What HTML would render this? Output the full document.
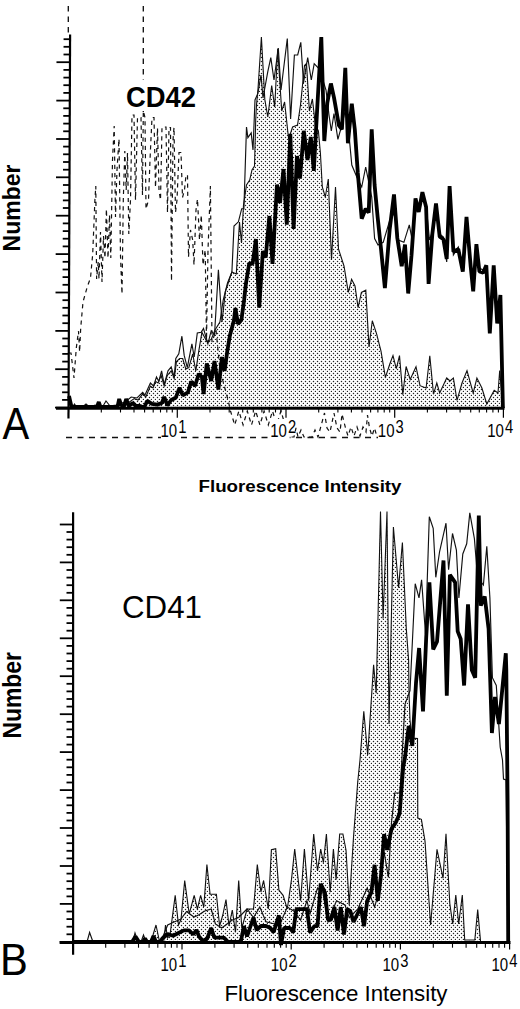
<!DOCTYPE html>
<html><head><meta charset="utf-8"><style>
html,body{margin:0;padding:0;background:#fff;}
svg{display:block;}
</style></head><body>
<svg width="520" height="1009" viewBox="0 0 520 1009">
<defs>
<pattern id="dots" width="4" height="4" patternUnits="userSpaceOnUse">
<rect width="4" height="4" fill="#fff"/>
<circle cx="1.5" cy="1.5" r="0.72" fill="#222"/>
<circle cx="3.5" cy="3.5" r="0.72" fill="#222"/>
</pattern>
</defs>
<rect width="520" height="1009" fill="#fff"/>
<polygon points="128.0,408.0 128.0,407.0 128.0,403.0 134.2,398.5 138.0,400.0 142.7,393.8 145.8,397.0 150.4,386.0 153.0,388.0 155.8,381.5 158.0,383.0 161.2,375.4 164.2,386.0 167.3,375.4 171.2,370.8 174.2,378.5 176.5,361.5 179.6,358.5 182.7,358.5 185.8,369.0 188.8,367.7 192.7,353.8 195.8,370.8 198.8,350.8 201.9,332.3 206.8,341.6 211.2,339.4 215.0,330.0 219.9,322.0 223.2,300.0 227.5,282.8 231.9,272.0 236.3,274.0 239.5,222.0 241.5,243.0 243.5,205.0 246.5,185.0 249.7,180.0 252.0,170.0 254.5,166.0 255.7,120.0 256.5,105.0 258.0,89.0 261.4,37.0 264.8,99.4 267.8,117.0 271.7,85.5 274.7,107.0 277.7,48.8 281.7,111.0 284.6,102.0 288.6,139.0 292.6,127.0 297.5,125.0 300.5,105.0 304.5,65.6 306.5,63.6 309.4,111.0 312.4,99.0 315.4,125.0 318.4,131.0 320.4,153.0 322.3,187.0 325.3,197.0 328.3,179.0 331.5,260.0 335.5,187.0 338.5,249.0 344.0,266.0 348.3,292.4 351.6,279.3 355.0,286.0 358.1,307.6 361.4,292.4 365.8,290.2 369.0,346.9 372.3,320.7 376.6,333.8 381.0,351.2 385.4,377.4 389.7,364.3 393.0,355.6 396.3,368.6 399.5,355.6 402.8,394.8 406.1,366.5 410.2,379.4 416.0,366.7 420.0,385.7 426.1,388.0 429.8,355.7 433.5,394.1 436.8,383.0 439.7,393.0 446.7,378.0 450.0,381.0 453.4,378.0 457.0,400.3 462.0,383.0 467.0,370.6 473.2,393.0 476.9,378.0 481.9,388.0 486.8,404.0 494.2,390.4 498.0,393.0 499.7,370.6 503.0,408.0 503.0,408.0" fill="url(#dots)" stroke="#111" stroke-width="1.1"/>
<polyline points="68.8,353.0 71.0,353.0 74.0,378.0 76.3,348.0 78.5,331.0 79.6,352.0 80.7,328.0 83.0,302.0 87.2,287.0 90.5,278.0 92.7,254.0 94.9,200.0 95.8,186.0 96.6,279.0 98.2,262.0 99.0,279.0 100.5,232.0 102.0,282.0 103.5,236.0 105.0,258.0 106.4,209.0 108.0,258.0 109.5,215.0 110.8,258.0 112.5,160.0 114.2,126.0 115.5,217.0 117.0,170.0 119.0,139.0 120.5,256.0 122.0,294.0 123.3,200.0 124.8,151.0 126.2,190.0 127.5,153.0 128.8,234.0 130.5,200.0 132.0,115.0 134.0,115.0 135.5,200.0 137.5,117.5 141.0,117.5 142.5,195.0 143.3,111.0 145.0,117.5 146.0,209.0 148.5,200.0 150.0,160.0 152.0,117.5 154.0,117.5 155.5,187.5 157.5,128.0 159.0,190.0 160.5,200.0 162.0,127.0 166.0,127.0 167.5,212.5 169.0,127.5 170.5,127.5 171.5,281.0 173.0,140.0 174.0,127.5 175.5,212.5 177.0,200.0 179.0,152.5 181.0,152.5 182.5,197.5 184.5,190.0 186.0,175.0 187.5,175.0 188.5,257.0 190.5,230.0 192.7,240.0 194.0,265.0 196.0,210.0 197.5,199.0 199.5,240.0 201.3,215.0 203.0,265.0 205.2,250.0 206.5,340.0 208.0,250.0 210.4,186.0 212.0,342.0 216.0,330.0 220.0,370.0 224.0,385.0 228.0,400.0 230.5,411.0 234.7,425.0 238.9,411.0 243.1,425.0 247.3,411.0 251.5,425.0 255.7,411.0 259.9,425.0 264.1,411.0 268.3,425.0 272.5,411.0 276.7,425.0 280.9,411.0 285.1,425.0 287.0,432.0 290.0,437.0 294.0,437.0 296.0,428.0 298.0,437.0 301.0,430.0 304.0,437.0 312.0,437.0 315.0,430.0 318.0,437.0 321.0,426.0 324.5,413.0 327.0,428.0 330.0,432.0 334.0,413.0 337.0,428.0 340.0,432.0 342.0,414.0 345.5,428.0 348.0,436.0 351.0,427.0 354.0,436.0 357.0,427.0 360.0,436.0 363.0,427.0 366.0,432.0 367.5,415.0 369.5,428.0 372.0,436.0 374.5,428.0 377.0,437.0" fill="none" stroke="#111" stroke-width="1.2" stroke-dasharray="4.2 4"/>
<line x1="68.3" y1="6" x2="68.3" y2="36" stroke="#111" stroke-width="1.35" stroke-dasharray="5.5 5"/>
<line x1="143.3" y1="6" x2="143.3" y2="112" stroke="#111" stroke-width="1.35" stroke-dasharray="5.5 5"/>
<line x1="66" y1="437.5" x2="378" y2="437.5" stroke="#111" stroke-width="1.3" stroke-dasharray="6 5.5"/>
<polyline points="70.0,407.0 72.5,407.0 74.5,404.0 76.5,407.0 82.5,407.0 86.0,404.0 89.5,407.0 93.0,407.0 95.0,405.0 97.0,407.0 102.5,407.0 106.0,401.0 110.0,406.0 116.0,405.0 125.0,402.0 131.2,397.0 137.0,398.0 142.7,392.3 145.0,395.0 150.4,383.0 153.5,386.0 156.5,377.0 158.8,381.5 161.6,370.8 164.2,384.6 168.0,370.8 171.2,367.0 174.2,377.0 175.8,358.5 178.8,353.8 181.9,336.2 184.2,355.4 187.3,367.7 191.9,343.8 194.2,357.0 197.3,333.0 201.2,332.3 203.5,328.5 207.9,343.8 211.2,330.7 214.5,335.0 218.4,269.7 222.0,322.0 225.4,291.5 231.9,272.0 234.0,226.0 238.4,221.8 241.7,208.7 243.9,208.7 246.5,127.0 247.9,137.6 251.2,132.9 253.0,150.0 255.0,100.0 257.9,93.4 261.0,75.0 263.0,98.0 267.8,71.6 270.8,57.7 274.0,80.0 278.3,48.0 281.0,90.0 287.3,38.5 290.6,119.0 294.4,55.0 297.7,55.0 300.8,42.3 303.5,83.0 307.7,57.5 311.3,80.0 314.2,63.6 318.4,68.0 323.3,81.5 326.0,90.0 329.0,115.0 331.3,131.0 334.0,113.5 337.9,139.3 341.9,125.0 345.9,107.5 349.0,135.0 351.8,165.0 356.8,177.0 361.7,187.0 365.7,167.0 368.7,182.0 371.7,196.8 374.6,238.5 378.0,245.0 383.2,242.3 389.7,220.5 395.2,211.8 398.4,240.0 403.9,242.3 409.3,224.9 412.6,242.3 415.5,200.0 418.7,210.0 422.4,194.0 426.1,205.0 429.5,240.0 432.3,232.0 436.0,205.0 439.7,234.0 443.4,237.0 446.7,262.0 449.6,190.0 453.4,255.0 458.3,247.0 462.8,265.0 466.5,219.0 470.7,262.0 473.2,285.0 476.4,247.0 479.4,268.0 483.1,270.0 486.3,268.0 489.8,320.0 493.7,268.0 497.2,315.0 500.4,298.0 502.9,408.0" fill="none" stroke="#111" stroke-width="1.15" stroke-linejoin="miter"/>
<polyline points="69.0,396.0 71.5,407.0 97.0,407.0 98.8,402.0 100.5,407.0 117.5,407.0 119.2,399.0 121.2,405.0 123.8,407.0 126.2,399.0 128.8,406.0 132.7,403.0 136.0,406.0 140.0,406.0 144.2,407.5 147.3,400.8 151.9,403.8 157.3,404.6 161.9,403.0 164.2,397.0 167.3,405.4 171.2,400.0 175.8,397.7 179.6,387.7 182.7,395.4 188.0,392.3 191.2,381.5 195.0,386.0 198.8,373.8 201.9,377.0 203.6,394.0 206.8,363.4 211.2,381.0 214.5,361.0 218.4,389.5 222.0,357.0 224.6,371.0 227.3,351.0 230.0,335.0 234.0,320.0 235.4,308.0 238.0,324.0 241.4,320.0 244.1,300.0 246.0,283.0 249.3,263.0 252.6,264.0 255.9,239.0 259.2,307.7 262.9,251.0 265.7,257.5 269.4,216.0 272.5,264.0 277.0,184.6 280.0,203.0 283.5,169.0 286.8,224.6 290.3,133.8 293.6,229.0 297.0,156.0 300.0,178.5 303.8,130.8 307.5,160.0 310.8,137.0 313.8,170.8 317.4,105.0 321.3,37.0 324.3,141.0 327.3,103.0 330.9,83.5 334.0,97.6 338.9,125.4 341.9,129.4 345.3,67.9 347.9,143.3 351.8,103.6 354.8,129.4 357.8,173.0 361.7,218.7 365.7,208.7 368.7,212.7 371.7,129.4 374.6,185.0 377.6,216.7 381.0,248.8 384.9,288.0 389.7,229.2 394.0,194.4 397.3,238.0 401.7,266.3 405.0,244.5 408.2,293.5 411.5,255.4 415.5,198.5 418.7,212.0 422.4,192.2 426.1,207.0 428.6,283.9 432.3,234.3 436.0,203.4 439.7,236.8 443.4,239.3 446.7,259.0 449.6,186.0 453.4,251.7 458.3,249.2 462.8,271.5 466.5,217.0 470.7,266.5 473.2,291.3 476.4,244.2 479.4,271.5 483.1,272.7 486.3,265.3 489.8,333.4 493.7,265.3 497.2,323.5 500.4,295.0 502.9,408.0" fill="none" stroke="#000" stroke-width="3.8" stroke-linejoin="bevel"/>
<line x1="70.09" y1="34.5" x2="68.48" y2="418.5" stroke="#000" stroke-width="2.2"/>
<line x1="56" y1="408.3" x2="504.5" y2="408.3" stroke="#000" stroke-width="3"/>
<line x1="63.57" y1="39.2" x2="70.07" y2="39.2" stroke="#000" stroke-width="1.8"/>
<line x1="63.54" y1="46.8" x2="70.04" y2="46.8" stroke="#000" stroke-width="1.8"/>
<line x1="63.51" y1="54.5" x2="70.01" y2="54.5" stroke="#000" stroke-width="1.8"/>
<line x1="56.47" y1="62.2" x2="69.97" y2="62.2" stroke="#000" stroke-width="1.8"/>
<line x1="63.44" y1="69.9" x2="69.94" y2="69.9" stroke="#000" stroke-width="1.8"/>
<line x1="63.41" y1="77.6" x2="69.91" y2="77.6" stroke="#000" stroke-width="1.8"/>
<line x1="63.38" y1="85.2" x2="69.88" y2="85.2" stroke="#000" stroke-width="1.8"/>
<line x1="63.35" y1="92.9" x2="69.85" y2="92.9" stroke="#000" stroke-width="1.8"/>
<line x1="56.31" y1="100.6" x2="69.81" y2="100.6" stroke="#000" stroke-width="1.8"/>
<line x1="63.28" y1="108.3" x2="69.78" y2="108.3" stroke="#000" stroke-width="1.8"/>
<line x1="63.25" y1="115.9" x2="69.75" y2="115.9" stroke="#000" stroke-width="1.8"/>
<line x1="63.22" y1="123.6" x2="69.72" y2="123.6" stroke="#000" stroke-width="1.8"/>
<line x1="63.18" y1="131.3" x2="69.68" y2="131.3" stroke="#000" stroke-width="1.8"/>
<line x1="56.15" y1="139.0" x2="69.65" y2="139.0" stroke="#000" stroke-width="1.8"/>
<line x1="63.12" y1="146.6" x2="69.62" y2="146.6" stroke="#000" stroke-width="1.8"/>
<line x1="63.09" y1="154.3" x2="69.59" y2="154.3" stroke="#000" stroke-width="1.8"/>
<line x1="63.06" y1="162.0" x2="69.56" y2="162.0" stroke="#000" stroke-width="1.8"/>
<line x1="63.02" y1="169.7" x2="69.52" y2="169.7" stroke="#000" stroke-width="1.8"/>
<line x1="55.99" y1="177.3" x2="69.49" y2="177.3" stroke="#000" stroke-width="1.8"/>
<line x1="62.96" y1="185.0" x2="69.46" y2="185.0" stroke="#000" stroke-width="1.8"/>
<line x1="62.93" y1="192.7" x2="69.43" y2="192.7" stroke="#000" stroke-width="1.8"/>
<line x1="62.89" y1="200.4" x2="69.39" y2="200.4" stroke="#000" stroke-width="1.8"/>
<line x1="62.86" y1="208.0" x2="69.36" y2="208.0" stroke="#000" stroke-width="1.8"/>
<line x1="55.83" y1="215.7" x2="69.33" y2="215.7" stroke="#000" stroke-width="1.8"/>
<line x1="62.80" y1="223.4" x2="69.30" y2="223.4" stroke="#000" stroke-width="1.8"/>
<line x1="62.77" y1="231.1" x2="69.27" y2="231.1" stroke="#000" stroke-width="1.8"/>
<line x1="62.73" y1="238.7" x2="69.23" y2="238.7" stroke="#000" stroke-width="1.8"/>
<line x1="62.70" y1="246.4" x2="69.20" y2="246.4" stroke="#000" stroke-width="1.8"/>
<line x1="55.67" y1="254.1" x2="69.17" y2="254.1" stroke="#000" stroke-width="1.8"/>
<line x1="62.64" y1="261.8" x2="69.14" y2="261.8" stroke="#000" stroke-width="1.8"/>
<line x1="62.60" y1="269.5" x2="69.10" y2="269.5" stroke="#000" stroke-width="1.8"/>
<line x1="62.57" y1="277.1" x2="69.07" y2="277.1" stroke="#000" stroke-width="1.8"/>
<line x1="62.54" y1="284.8" x2="69.04" y2="284.8" stroke="#000" stroke-width="1.8"/>
<line x1="55.51" y1="292.5" x2="69.01" y2="292.5" stroke="#000" stroke-width="1.8"/>
<line x1="62.48" y1="300.2" x2="68.98" y2="300.2" stroke="#000" stroke-width="1.8"/>
<line x1="62.44" y1="307.8" x2="68.94" y2="307.8" stroke="#000" stroke-width="1.8"/>
<line x1="62.41" y1="315.5" x2="68.91" y2="315.5" stroke="#000" stroke-width="1.8"/>
<line x1="62.38" y1="323.2" x2="68.88" y2="323.2" stroke="#000" stroke-width="1.8"/>
<line x1="55.35" y1="330.9" x2="68.85" y2="330.9" stroke="#000" stroke-width="1.8"/>
<line x1="62.31" y1="338.5" x2="68.81" y2="338.5" stroke="#000" stroke-width="1.8"/>
<line x1="62.28" y1="346.2" x2="68.78" y2="346.2" stroke="#000" stroke-width="1.8"/>
<line x1="62.25" y1="353.9" x2="68.75" y2="353.9" stroke="#000" stroke-width="1.8"/>
<line x1="62.22" y1="361.6" x2="68.72" y2="361.6" stroke="#000" stroke-width="1.8"/>
<line x1="55.19" y1="369.2" x2="68.69" y2="369.2" stroke="#000" stroke-width="1.8"/>
<line x1="62.15" y1="376.9" x2="68.65" y2="376.9" stroke="#000" stroke-width="1.8"/>
<line x1="62.12" y1="384.6" x2="68.62" y2="384.6" stroke="#000" stroke-width="1.8"/>
<line x1="62.09" y1="392.3" x2="68.59" y2="392.3" stroke="#000" stroke-width="1.8"/>
<line x1="62.06" y1="399.9" x2="68.56" y2="399.9" stroke="#000" stroke-width="1.8"/>
<line x1="55.02" y1="407.6" x2="68.52" y2="407.6" stroke="#000" stroke-width="1.8"/>
<line x1="101.3" y1="409" x2="101.3" y2="412.5" stroke="#000" stroke-width="1.1"/>
<line x1="120.5" y1="409" x2="120.5" y2="412.5" stroke="#000" stroke-width="1.1"/>
<line x1="134.0" y1="409" x2="134.0" y2="412.5" stroke="#000" stroke-width="1.1"/>
<line x1="144.6" y1="409" x2="144.6" y2="412.5" stroke="#000" stroke-width="1.1"/>
<line x1="153.2" y1="409" x2="153.2" y2="412.5" stroke="#000" stroke-width="1.1"/>
<line x1="160.5" y1="409" x2="160.5" y2="412.5" stroke="#000" stroke-width="1.1"/>
<line x1="166.8" y1="409" x2="166.8" y2="412.5" stroke="#000" stroke-width="1.1"/>
<line x1="172.3" y1="409" x2="172.3" y2="412.5" stroke="#000" stroke-width="1.1"/>
<line x1="177.3" y1="409" x2="177.3" y2="417.7" stroke="#000" stroke-width="1.2"/>
<line x1="210.0" y1="409" x2="210.0" y2="412.5" stroke="#000" stroke-width="1.1"/>
<line x1="229.2" y1="409" x2="229.2" y2="412.5" stroke="#000" stroke-width="1.1"/>
<line x1="242.7" y1="409" x2="242.7" y2="412.5" stroke="#000" stroke-width="1.1"/>
<line x1="253.3" y1="409" x2="253.3" y2="412.5" stroke="#000" stroke-width="1.1"/>
<line x1="261.9" y1="409" x2="261.9" y2="412.5" stroke="#000" stroke-width="1.1"/>
<line x1="269.2" y1="409" x2="269.2" y2="412.5" stroke="#000" stroke-width="1.1"/>
<line x1="275.5" y1="409" x2="275.5" y2="412.5" stroke="#000" stroke-width="1.1"/>
<line x1="281.0" y1="409" x2="281.0" y2="412.5" stroke="#000" stroke-width="1.1"/>
<line x1="286.0" y1="409" x2="286.0" y2="417.7" stroke="#000" stroke-width="1.2"/>
<line x1="318.7" y1="409" x2="318.7" y2="412.5" stroke="#000" stroke-width="1.1"/>
<line x1="337.9" y1="409" x2="337.9" y2="412.5" stroke="#000" stroke-width="1.1"/>
<line x1="351.4" y1="409" x2="351.4" y2="412.5" stroke="#000" stroke-width="1.1"/>
<line x1="362.0" y1="409" x2="362.0" y2="412.5" stroke="#000" stroke-width="1.1"/>
<line x1="370.6" y1="409" x2="370.6" y2="412.5" stroke="#000" stroke-width="1.1"/>
<line x1="377.9" y1="409" x2="377.9" y2="412.5" stroke="#000" stroke-width="1.1"/>
<line x1="384.2" y1="409" x2="384.2" y2="412.5" stroke="#000" stroke-width="1.1"/>
<line x1="389.7" y1="409" x2="389.7" y2="412.5" stroke="#000" stroke-width="1.1"/>
<line x1="394.7" y1="409" x2="394.7" y2="417.7" stroke="#000" stroke-width="1.2"/>
<line x1="427.4" y1="409" x2="427.4" y2="412.5" stroke="#000" stroke-width="1.1"/>
<line x1="446.6" y1="409" x2="446.6" y2="412.5" stroke="#000" stroke-width="1.1"/>
<line x1="460.1" y1="409" x2="460.1" y2="412.5" stroke="#000" stroke-width="1.1"/>
<line x1="470.7" y1="409" x2="470.7" y2="412.5" stroke="#000" stroke-width="1.1"/>
<line x1="479.3" y1="409" x2="479.3" y2="412.5" stroke="#000" stroke-width="1.1"/>
<line x1="486.6" y1="409" x2="486.6" y2="412.5" stroke="#000" stroke-width="1.1"/>
<line x1="492.9" y1="409" x2="492.9" y2="412.5" stroke="#000" stroke-width="1.1"/>
<line x1="498.4" y1="409" x2="498.4" y2="412.5" stroke="#000" stroke-width="1.1"/>
<line x1="503.4" y1="409" x2="503.4" y2="417.7" stroke="#000" stroke-width="1.2"/>
<polygon points="150.0,942.0 150.0,942.0 153.0,935.0 156.0,925.0 159.6,942.0 163.7,942.0 165.5,925.0 167.7,938.0 170.0,935.0 175.2,895.4 178.5,925.0 181.0,919.6 184.7,880.6 189.2,914.0 194.2,895.3 197.4,909.0 200.6,895.3 203.8,907.0 206.9,864.6 210.1,894.2 216.4,894.2 219.6,926.0 222.8,915.0 226.0,899.5 229.0,926.0 232.3,910.0 235.5,932.3 238.7,880.5 241.8,928.0 247.1,909.0 253.5,909.0 257.3,864.6 260.9,892.0 263.6,880.5 268.3,909.0 271.4,849.8 275.7,848.8 278.9,890.0 283.1,895.3 287.3,909.0 291.5,879.4 294.7,849.0 300.6,900.8 304.4,849.0 308.6,900.8 313.7,834.0 317.5,871.0 320.7,849.0 323.4,862.7 326.4,834.0 330.2,892.3 333.4,849.0 336.1,879.6 339.7,834.0 342.9,834.0 346.0,850.0 349.2,905.0 353.5,837.3 357.7,782.3 360.0,760.0 363.8,711.2 367.7,755.0 373.6,664.9 376.2,693.2 380.5,511.6 383.1,618.5 387.0,511.6 389.0,724.0 393.4,527.0 398.6,587.6 402.4,542.5 406.3,628.8 408.6,660.0 409.0,692.0 410.0,720.0 412.0,738.0 417.5,738.6 417.8,818.0 421.4,819.3 425.0,841.0 430.6,925.0 437.0,849.4 443.0,878.2 446.0,833.8 449.8,903.5 452.7,924.0 455.8,895.0 458.7,924.0 462.3,895.0 464.7,940.0 474.8,940.0 477.7,909.6 480.6,942.0 480.6,942.0" fill="url(#dots)" stroke="#111" stroke-width="1.1"/>
<polyline points="72.8,942.0 87.0,942.0 89.6,932.5 93.0,942.0 132.7,942.0 135.0,933.0 138.0,942.0 141.0,942.0 143.5,935.0 146.0,942.0 160.0,942.0 162.3,938.0 167.7,925.0 174.0,922.0 181.0,919.0 186.5,911.5 194.0,917.0 198.5,915.0 204.8,911.0 211.2,909.0 215.4,924.0 221.7,928.0 232.3,920.0 238.7,917.5 247.0,909.0 253.5,917.5 259.8,907.0 266.0,921.7 274.6,924.0 281.0,921.7 287.3,907.0 293.7,911.0 300.6,920.0 306.9,900.8 310.1,913.5 317.5,888.0 322.8,892.3 328.0,922.0 336.5,900.8 345.0,905.0 349.2,917.7 357.7,909.2 367.2,888.0 374.6,907.0 378.8,892.3 384.1,852.0 388.4,877.5 391.5,822.5 394.7,793.0 400.0,793.0 405.0,704.0 410.0,690.6 415.2,583.7 419.0,597.9 421.6,579.9 425.5,634.0 429.3,516.7 433.2,528.3 435.8,577.3 439.6,551.5 446.0,523.2 448.6,569.6 452.5,533.5 456.4,550.2 458.9,597.9 462.8,554.0 466.7,543.8 469.8,512.9 474.4,538.6 477.5,577.3 483.4,585.0 486.8,546.4 489.9,597.9 492.4,677.7 496.3,685.5 500.2,747.3 502.5,760.0 503.5,779.0 506.0,780.0 508.0,942.0" fill="none" stroke="#111" stroke-width="1.15" stroke-linejoin="miter"/>
<polyline points="72.8,942.0 132.0,942.0 135.5,936.5 139.0,942.0 143.0,942.0 145.0,938.5 147.0,942.0 151.0,942.0 153.5,936.0 156.0,942.0 160.0,942.0 162.3,938.5 167.7,934.0 173.0,935.8 178.5,933.0 183.9,930.4 189.0,930.4 193.3,934.4 196.5,930.0 199.0,936.5 202.7,940.8 207.0,939.0 211.2,928.0 214.3,937.6 223.8,937.6 228.0,941.8 240.8,941.8 243.9,926.0 247.0,936.5 253.5,917.5 256.6,930.0 260.9,926.0 266.0,926.0 270.4,928.0 273.6,932.3 278.9,915.4 281.0,945.0 284.1,928.0 288.4,928.0 290.0,928.0 293.2,932.5 296.3,909.2 306.9,909.2 310.1,932.5 314.3,926.2 317.5,926.0 320.7,883.9 324.9,892.3 328.0,919.8 331.0,919.8 334.4,907.1 337.6,930.4 340.8,907.1 344.0,934.6 347.1,909.2 350.3,911.0 353.5,922.0 357.7,913.5 360.9,907.1 364.0,926.2 367.2,900.8 371.4,892.3 374.6,864.8 377.8,900.8 381.0,875.4 384.1,834.1 387.3,850.0 391.5,828.9 395.8,822.5 399.6,813.6 403.2,767.0 405.0,757.6 408.7,726.0 412.3,746.0 416.0,683.0 419.1,648.0 423.0,711.5 426.2,637.5 429.4,582.4 433.2,649.4 437.0,641.7 443.5,560.5 446.8,695.8 449.9,574.7 455.1,582.4 457.7,631.4 460.7,639.0 464.1,685.5 468.0,604.3 471.8,670.0 475.2,677.7 478.8,515.5 480.8,605.6 484.7,596.6 488.6,628.8 491.9,733.0 495.0,697.0 498.9,724.1 505.8,653.3 506.3,670.0 507.6,800.0 508.2,942.0" fill="none" stroke="#000" stroke-width="3.8" stroke-linejoin="bevel"/>
<line x1="73.1" y1="512.2" x2="73.1" y2="954.8" stroke="#000" stroke-width="2.2"/>
<line x1="59.6" y1="942.6" x2="510.5" y2="942.6" stroke="#000" stroke-width="3"/>
<line x1="59.8" y1="941.9" x2="73.1" y2="941.9" stroke="#000" stroke-width="1.8"/>
<line x1="66.5" y1="934.3" x2="73.1" y2="934.3" stroke="#000" stroke-width="1.8"/>
<line x1="66.5" y1="926.7" x2="73.1" y2="926.7" stroke="#000" stroke-width="1.8"/>
<line x1="66.5" y1="919.1" x2="73.1" y2="919.1" stroke="#000" stroke-width="1.8"/>
<line x1="66.5" y1="911.5" x2="73.1" y2="911.5" stroke="#000" stroke-width="1.8"/>
<line x1="59.8" y1="903.9" x2="73.1" y2="903.9" stroke="#000" stroke-width="1.8"/>
<line x1="66.5" y1="896.4" x2="73.1" y2="896.4" stroke="#000" stroke-width="1.8"/>
<line x1="66.5" y1="888.8" x2="73.1" y2="888.8" stroke="#000" stroke-width="1.8"/>
<line x1="66.5" y1="881.2" x2="73.1" y2="881.2" stroke="#000" stroke-width="1.8"/>
<line x1="66.5" y1="873.6" x2="73.1" y2="873.6" stroke="#000" stroke-width="1.8"/>
<line x1="59.8" y1="866.0" x2="73.1" y2="866.0" stroke="#000" stroke-width="1.8"/>
<line x1="66.5" y1="858.4" x2="73.1" y2="858.4" stroke="#000" stroke-width="1.8"/>
<line x1="66.5" y1="850.8" x2="73.1" y2="850.8" stroke="#000" stroke-width="1.8"/>
<line x1="66.5" y1="843.2" x2="73.1" y2="843.2" stroke="#000" stroke-width="1.8"/>
<line x1="66.5" y1="835.6" x2="73.1" y2="835.6" stroke="#000" stroke-width="1.8"/>
<line x1="59.8" y1="828.0" x2="73.1" y2="828.0" stroke="#000" stroke-width="1.8"/>
<line x1="66.5" y1="820.5" x2="73.1" y2="820.5" stroke="#000" stroke-width="1.8"/>
<line x1="66.5" y1="812.9" x2="73.1" y2="812.9" stroke="#000" stroke-width="1.8"/>
<line x1="66.5" y1="805.3" x2="73.1" y2="805.3" stroke="#000" stroke-width="1.8"/>
<line x1="66.5" y1="797.7" x2="73.1" y2="797.7" stroke="#000" stroke-width="1.8"/>
<line x1="59.8" y1="790.1" x2="73.1" y2="790.1" stroke="#000" stroke-width="1.8"/>
<line x1="66.5" y1="782.5" x2="73.1" y2="782.5" stroke="#000" stroke-width="1.8"/>
<line x1="66.5" y1="774.9" x2="73.1" y2="774.9" stroke="#000" stroke-width="1.8"/>
<line x1="66.5" y1="767.3" x2="73.1" y2="767.3" stroke="#000" stroke-width="1.8"/>
<line x1="66.5" y1="759.7" x2="73.1" y2="759.7" stroke="#000" stroke-width="1.8"/>
<line x1="59.8" y1="752.1" x2="73.1" y2="752.1" stroke="#000" stroke-width="1.8"/>
<line x1="66.5" y1="744.6" x2="73.1" y2="744.6" stroke="#000" stroke-width="1.8"/>
<line x1="66.5" y1="737.0" x2="73.1" y2="737.0" stroke="#000" stroke-width="1.8"/>
<line x1="66.5" y1="729.4" x2="73.1" y2="729.4" stroke="#000" stroke-width="1.8"/>
<line x1="66.5" y1="721.8" x2="73.1" y2="721.8" stroke="#000" stroke-width="1.8"/>
<line x1="59.8" y1="714.2" x2="73.1" y2="714.2" stroke="#000" stroke-width="1.8"/>
<line x1="66.5" y1="706.6" x2="73.1" y2="706.6" stroke="#000" stroke-width="1.8"/>
<line x1="66.5" y1="699.0" x2="73.1" y2="699.0" stroke="#000" stroke-width="1.8"/>
<line x1="66.5" y1="691.4" x2="73.1" y2="691.4" stroke="#000" stroke-width="1.8"/>
<line x1="66.5" y1="683.8" x2="73.1" y2="683.8" stroke="#000" stroke-width="1.8"/>
<line x1="59.8" y1="676.2" x2="73.1" y2="676.2" stroke="#000" stroke-width="1.8"/>
<line x1="66.5" y1="668.7" x2="73.1" y2="668.7" stroke="#000" stroke-width="1.8"/>
<line x1="66.5" y1="661.1" x2="73.1" y2="661.1" stroke="#000" stroke-width="1.8"/>
<line x1="66.5" y1="653.5" x2="73.1" y2="653.5" stroke="#000" stroke-width="1.8"/>
<line x1="66.5" y1="645.9" x2="73.1" y2="645.9" stroke="#000" stroke-width="1.8"/>
<line x1="59.8" y1="638.3" x2="73.1" y2="638.3" stroke="#000" stroke-width="1.8"/>
<line x1="66.5" y1="630.7" x2="73.1" y2="630.7" stroke="#000" stroke-width="1.8"/>
<line x1="66.5" y1="623.1" x2="73.1" y2="623.1" stroke="#000" stroke-width="1.8"/>
<line x1="66.5" y1="615.5" x2="73.1" y2="615.5" stroke="#000" stroke-width="1.8"/>
<line x1="66.5" y1="607.9" x2="73.1" y2="607.9" stroke="#000" stroke-width="1.8"/>
<line x1="59.8" y1="600.3" x2="73.1" y2="600.3" stroke="#000" stroke-width="1.8"/>
<line x1="66.5" y1="592.8" x2="73.1" y2="592.8" stroke="#000" stroke-width="1.8"/>
<line x1="66.5" y1="585.2" x2="73.1" y2="585.2" stroke="#000" stroke-width="1.8"/>
<line x1="66.5" y1="577.6" x2="73.1" y2="577.6" stroke="#000" stroke-width="1.8"/>
<line x1="66.5" y1="570.0" x2="73.1" y2="570.0" stroke="#000" stroke-width="1.8"/>
<line x1="59.8" y1="562.4" x2="73.1" y2="562.4" stroke="#000" stroke-width="1.8"/>
<line x1="66.5" y1="554.8" x2="73.1" y2="554.8" stroke="#000" stroke-width="1.8"/>
<line x1="66.5" y1="547.2" x2="73.1" y2="547.2" stroke="#000" stroke-width="1.8"/>
<line x1="66.5" y1="539.6" x2="73.1" y2="539.6" stroke="#000" stroke-width="1.8"/>
<line x1="66.5" y1="532.0" x2="73.1" y2="532.0" stroke="#000" stroke-width="1.8"/>
<line x1="59.8" y1="524.5" x2="73.1" y2="524.5" stroke="#000" stroke-width="1.8"/>
<line x1="105.7" y1="943" x2="105.7" y2="947.7" stroke="#000" stroke-width="1.1"/>
<line x1="124.9" y1="943" x2="124.9" y2="947.7" stroke="#000" stroke-width="1.1"/>
<line x1="138.5" y1="943" x2="138.5" y2="947.7" stroke="#000" stroke-width="1.1"/>
<line x1="149.1" y1="943" x2="149.1" y2="947.7" stroke="#000" stroke-width="1.1"/>
<line x1="157.8" y1="943" x2="157.8" y2="947.7" stroke="#000" stroke-width="1.1"/>
<line x1="165.1" y1="943" x2="165.1" y2="947.7" stroke="#000" stroke-width="1.1"/>
<line x1="171.4" y1="943" x2="171.4" y2="947.7" stroke="#000" stroke-width="1.1"/>
<line x1="177.0" y1="943" x2="177.0" y2="947.7" stroke="#000" stroke-width="1.1"/>
<line x1="182.0" y1="943" x2="182.0" y2="949.6" stroke="#000" stroke-width="1.2"/>
<line x1="214.9" y1="943" x2="214.9" y2="947.7" stroke="#000" stroke-width="1.1"/>
<line x1="234.1" y1="943" x2="234.1" y2="947.7" stroke="#000" stroke-width="1.1"/>
<line x1="247.7" y1="943" x2="247.7" y2="947.7" stroke="#000" stroke-width="1.1"/>
<line x1="258.3" y1="943" x2="258.3" y2="947.7" stroke="#000" stroke-width="1.1"/>
<line x1="267.0" y1="943" x2="267.0" y2="947.7" stroke="#000" stroke-width="1.1"/>
<line x1="274.3" y1="943" x2="274.3" y2="947.7" stroke="#000" stroke-width="1.1"/>
<line x1="280.6" y1="943" x2="280.6" y2="947.7" stroke="#000" stroke-width="1.1"/>
<line x1="286.2" y1="943" x2="286.2" y2="947.7" stroke="#000" stroke-width="1.1"/>
<line x1="291.2" y1="943" x2="291.2" y2="949.6" stroke="#000" stroke-width="1.2"/>
<line x1="324.1" y1="943" x2="324.1" y2="947.7" stroke="#000" stroke-width="1.1"/>
<line x1="343.3" y1="943" x2="343.3" y2="947.7" stroke="#000" stroke-width="1.1"/>
<line x1="356.9" y1="943" x2="356.9" y2="947.7" stroke="#000" stroke-width="1.1"/>
<line x1="367.5" y1="943" x2="367.5" y2="947.7" stroke="#000" stroke-width="1.1"/>
<line x1="376.2" y1="943" x2="376.2" y2="947.7" stroke="#000" stroke-width="1.1"/>
<line x1="383.5" y1="943" x2="383.5" y2="947.7" stroke="#000" stroke-width="1.1"/>
<line x1="389.8" y1="943" x2="389.8" y2="947.7" stroke="#000" stroke-width="1.1"/>
<line x1="395.4" y1="943" x2="395.4" y2="947.7" stroke="#000" stroke-width="1.1"/>
<line x1="400.4" y1="943" x2="400.4" y2="949.6" stroke="#000" stroke-width="1.2"/>
<line x1="433.3" y1="943" x2="433.3" y2="947.7" stroke="#000" stroke-width="1.1"/>
<line x1="452.5" y1="943" x2="452.5" y2="947.7" stroke="#000" stroke-width="1.1"/>
<line x1="466.1" y1="943" x2="466.1" y2="947.7" stroke="#000" stroke-width="1.1"/>
<line x1="476.7" y1="943" x2="476.7" y2="947.7" stroke="#000" stroke-width="1.1"/>
<line x1="485.4" y1="943" x2="485.4" y2="947.7" stroke="#000" stroke-width="1.1"/>
<line x1="492.7" y1="943" x2="492.7" y2="947.7" stroke="#000" stroke-width="1.1"/>
<line x1="499.0" y1="943" x2="499.0" y2="947.7" stroke="#000" stroke-width="1.1"/>
<line x1="504.6" y1="943" x2="504.6" y2="947.7" stroke="#000" stroke-width="1.1"/>
<line x1="509.6" y1="943" x2="509.6" y2="949.6" stroke="#000" stroke-width="1.2"/>
<rect x="161.0" y="419" width="19" height="20" fill="#fff"/>
<text x="160.5" y="436.5" font-family="Liberation Sans, sans-serif" font-size="18" textLength="16.7" lengthAdjust="spacingAndGlyphs">10</text><text x="178.3" y="432.5" font-family="Liberation Sans, sans-serif" font-size="18" textLength="8.2" lengthAdjust="spacingAndGlyphs">1</text>
<rect x="270.7" y="419" width="19" height="20" fill="#fff"/>
<text x="270.2" y="436.5" font-family="Liberation Sans, sans-serif" font-size="18" textLength="16.7" lengthAdjust="spacingAndGlyphs">10</text><text x="288.0" y="432.5" font-family="Liberation Sans, sans-serif" font-size="18" textLength="8.2" lengthAdjust="spacingAndGlyphs">2</text>
<rect x="378.3" y="419" width="19" height="20" fill="#fff"/>
<text x="377.8" y="436.5" font-family="Liberation Sans, sans-serif" font-size="18" textLength="16.7" lengthAdjust="spacingAndGlyphs">10</text><text x="395.6" y="432.5" font-family="Liberation Sans, sans-serif" font-size="18" textLength="8.2" lengthAdjust="spacingAndGlyphs">3</text>
<rect x="487.7" y="419" width="19" height="20" fill="#fff"/>
<text x="487.2" y="436.5" font-family="Liberation Sans, sans-serif" font-size="18" textLength="16.7" lengthAdjust="spacingAndGlyphs">10</text><text x="505.0" y="432.5" font-family="Liberation Sans, sans-serif" font-size="18" textLength="8.2" lengthAdjust="spacingAndGlyphs">4</text>
<text x="160.5" y="970.8" font-family="Liberation Sans, sans-serif" font-size="18" textLength="16.7" lengthAdjust="spacingAndGlyphs">10</text><text x="178.3" y="966.8" font-family="Liberation Sans, sans-serif" font-size="18" textLength="8.2" lengthAdjust="spacingAndGlyphs">1</text>
<text x="270.8" y="970.8" font-family="Liberation Sans, sans-serif" font-size="18" textLength="16.7" lengthAdjust="spacingAndGlyphs">10</text><text x="288.6" y="966.8" font-family="Liberation Sans, sans-serif" font-size="18" textLength="8.2" lengthAdjust="spacingAndGlyphs">2</text>
<text x="382.5" y="970.8" font-family="Liberation Sans, sans-serif" font-size="18" textLength="16.7" lengthAdjust="spacingAndGlyphs">10</text><text x="400.3" y="966.8" font-family="Liberation Sans, sans-serif" font-size="18" textLength="8.2" lengthAdjust="spacingAndGlyphs">3</text>
<text x="491.5" y="970.8" font-family="Liberation Sans, sans-serif" font-size="18" textLength="16.7" lengthAdjust="spacingAndGlyphs">10</text><text x="509.3" y="966.8" font-family="Liberation Sans, sans-serif" font-size="18" textLength="8.2" lengthAdjust="spacingAndGlyphs">4</text>
<text transform="translate(4.2,438.5) scale(0.91,1)" x="-2" font-family="Liberation Sans, sans-serif" font-size="44">A</text>
<text transform="translate(2.9,975.2) scale(0.944,1)" x="-3" font-family="Liberation Sans, sans-serif" font-size="44.2">B</text>
<rect x="124" y="80" width="76" height="30" fill="#fff"/>
<text x="126" y="107.4" font-family="Liberation Sans, sans-serif" font-size="29" font-weight="bold" textLength="70" lengthAdjust="spacingAndGlyphs">CD42</text>
<text x="122" y="618" font-family="Liberation Sans, sans-serif" font-size="32" textLength="80" lengthAdjust="spacingAndGlyphs">CD41</text>
<text x="198.5" y="492.2" font-family="Liberation Sans, sans-serif" font-size="16.8" font-weight="bold" textLength="203" lengthAdjust="spacingAndGlyphs">Fluorescence Intensity</text>
<text x="224.5" y="1001.3" font-family="Liberation Sans, sans-serif" font-size="21.5" textLength="223" lengthAdjust="spacingAndGlyphs">Fluorescence Intensity</text>
<text transform="translate(20.2,251.5) rotate(-90)" font-family="Liberation Sans, sans-serif" font-size="24.5" font-weight="bold" textLength="87" lengthAdjust="spacingAndGlyphs">Number</text>
<text transform="translate(21.2,738.5) rotate(-90)" font-family="Liberation Sans, sans-serif" font-size="25" font-weight="bold" textLength="86.5" lengthAdjust="spacingAndGlyphs">Number</text>
</svg>
</body></html>
